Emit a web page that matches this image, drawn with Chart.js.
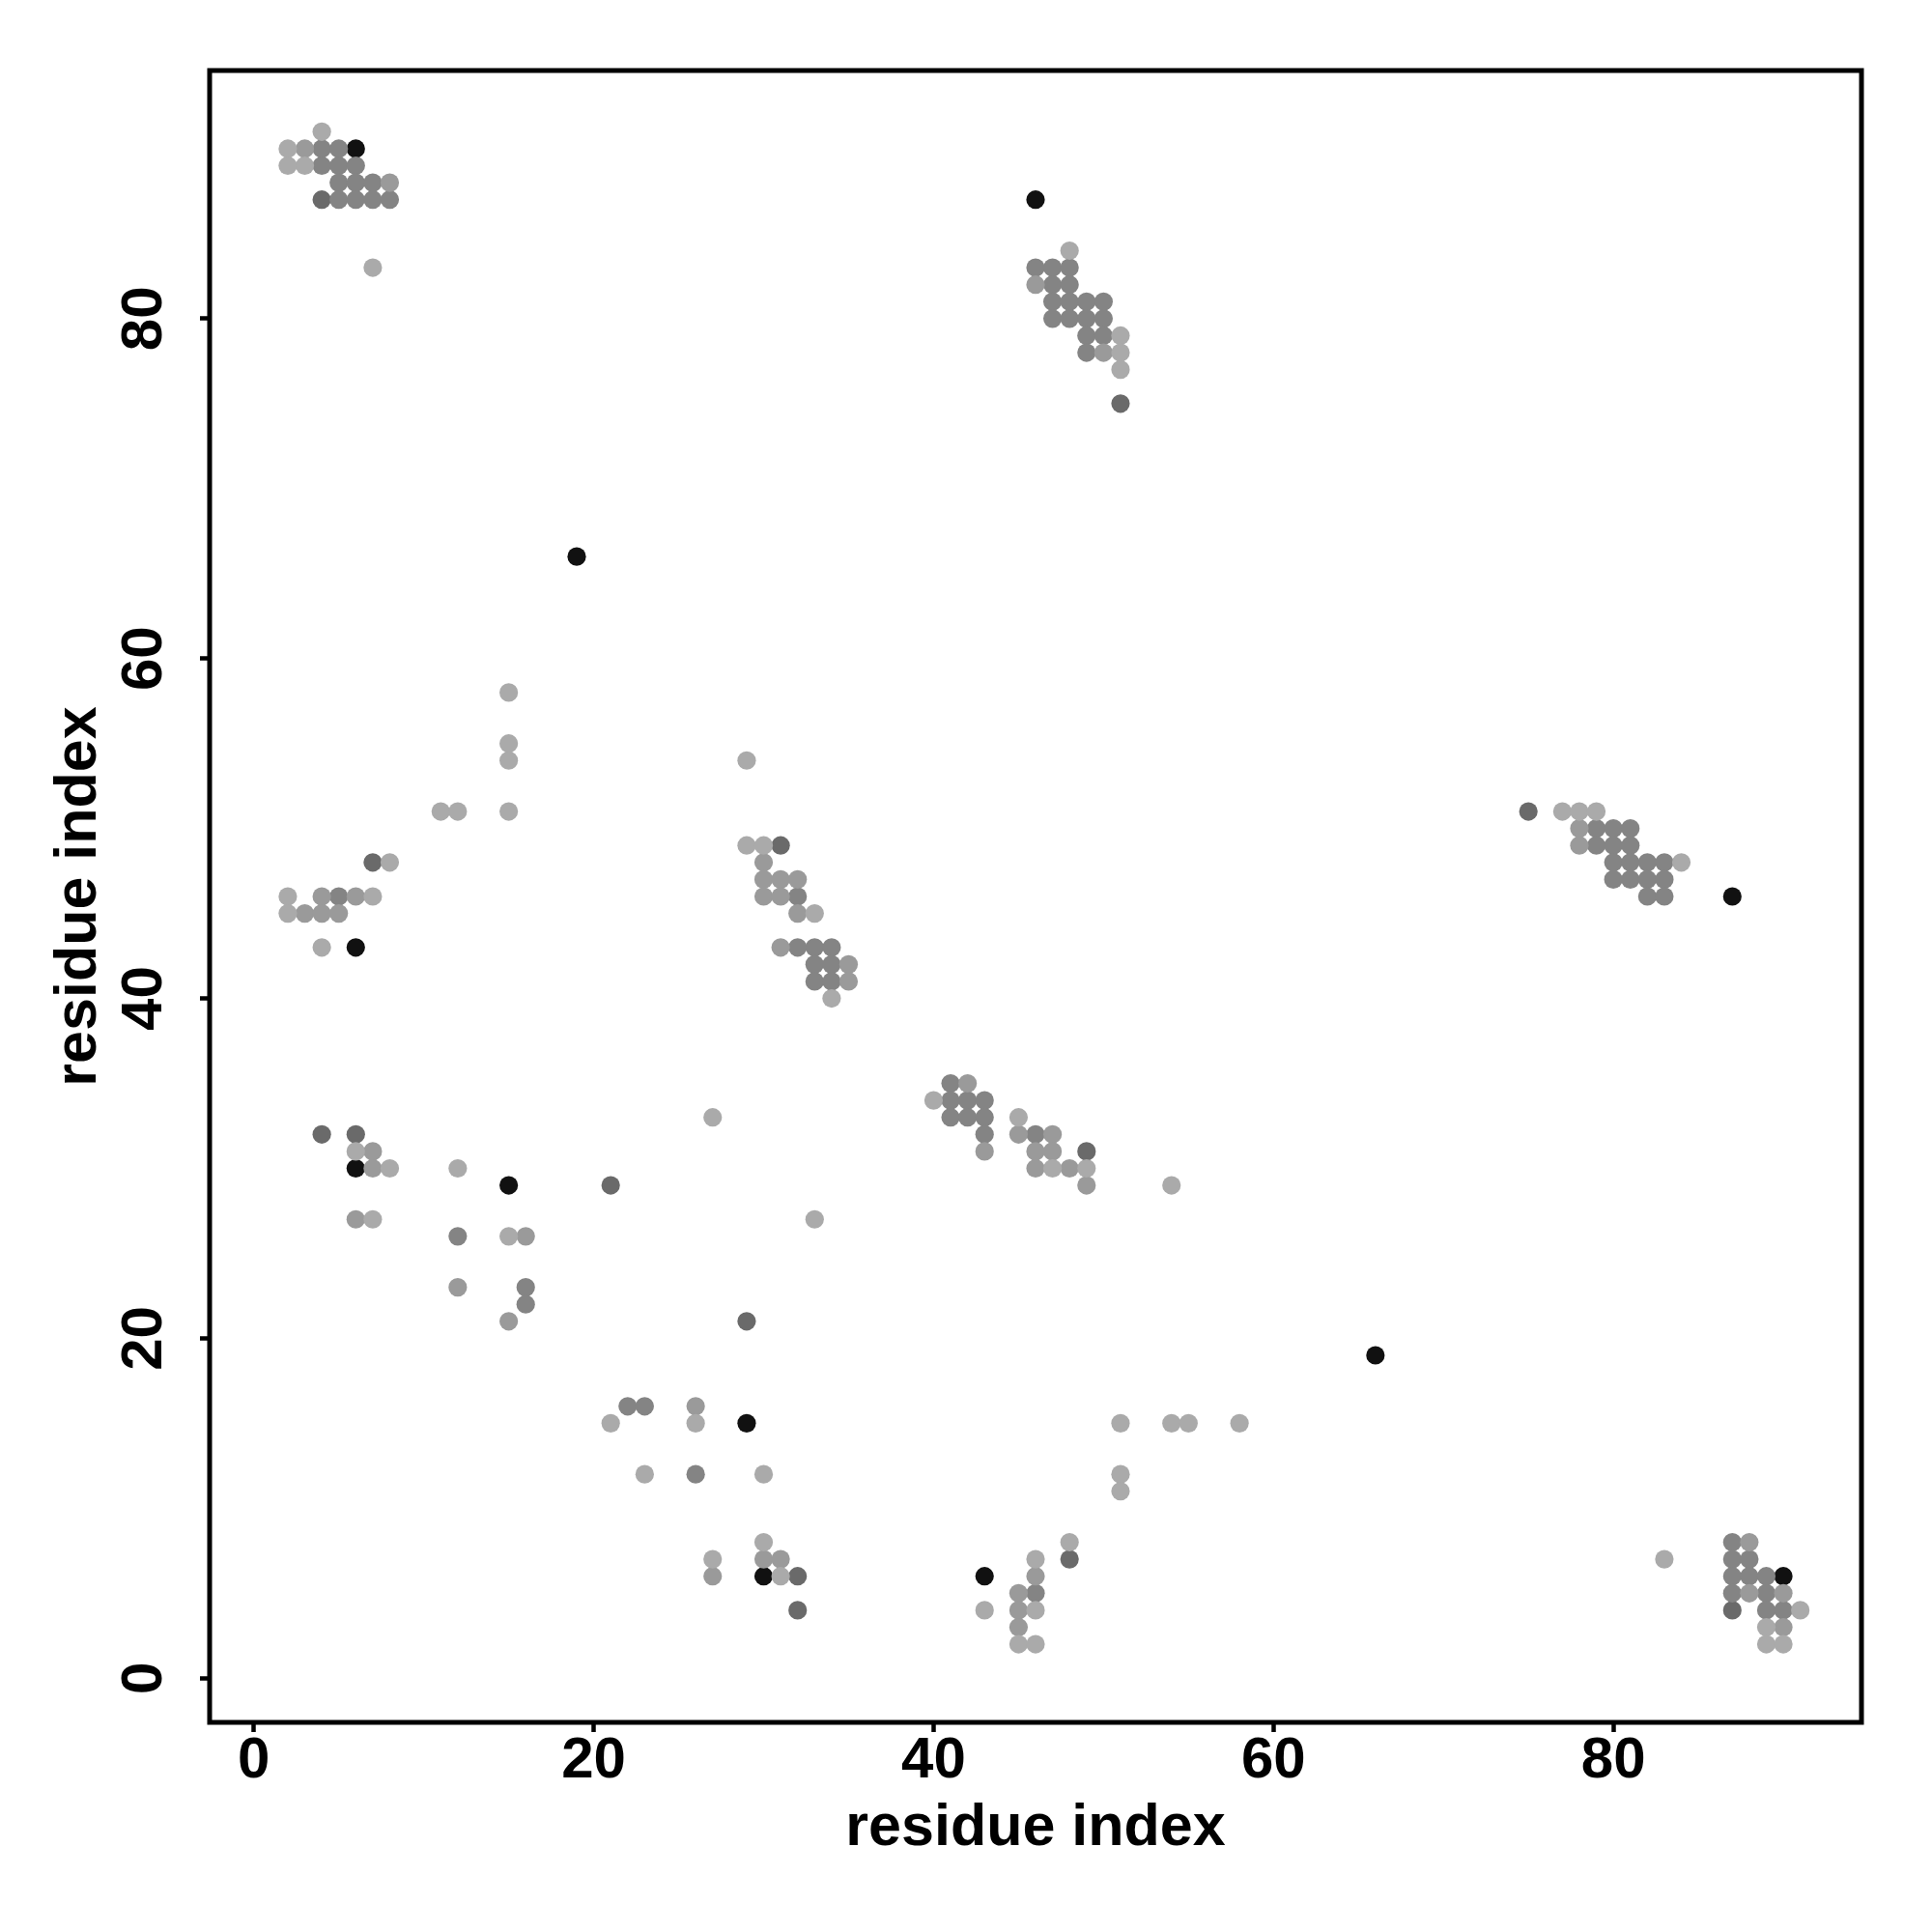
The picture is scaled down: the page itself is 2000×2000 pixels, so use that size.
<!DOCTYPE html>
<html>
<head>
<meta charset="utf-8">
<script src="https://cdn.jsdelivr.net/npm/chart.js@4/dist/chart.umd.min.js"></script>
<style>
html, body { margin: 0; padding: 0; background: #ffffff; }
canvas { display: block; }
</style>
</head>
<body>
<canvas id="c" width="2000" height="2000" style="width:2000px;height:2000px"></canvas>
<script>
// ---- data ----
const xTickValues = [0, 20, 40, 60, 80];
const yTickValues = [0, 20, 40, 60, 80];
const axisRange = [-2.6, 94.6];
const xTitle = 'residue index';
const yTitle = 'residue index';

// contacts grouped by gray level: [x, y]
const lightPts = [
  [4,91],[2,90],[2,89],[3,89],[7,83],
  [83,7],[91,4],[89,3],[89,2],[90,2],
  [48,84],[51,79],[51,78],[51,77],
  [77,51],[78,51],[79,51],[84,48],
  [15,58],[15,55],[15,54],[11,51],[12,51],[15,51],[8,48],[2,46],[7,46],[2,45],[4,43],
  [51,15],[54,15],[55,15],[58,15],[51,12],[51,11],[48,8],[46,7],[43,4],[46,4],[45,2],[46,2],
  [29,54],[29,49],[30,49],[33,45],[34,40],
  [40,34],[45,33],[47,30],[49,30],[54,29],
  [6,31],[8,30],[12,30],[7,27],[15,26],
  [21,15],[26,15],[23,12],[30,12],[30,8],[27,7],[31,6],
  [27,33],[33,27]
];
const lightMidPts = [
  [3,90],[8,88],
  [88,8],[88,5],[90,5],[90,3],
  [46,82],[50,78],
  [78,50],[78,49],
  [4,46],[6,46],[3,45],[4,45],[5,45],
  [46,6],[45,5],[45,4],[45,3],
  [30,48],[30,47],[31,47],[32,47],[30,46],[31,46],[32,45],[31,43],[35,42],[35,41],
  [42,35],[45,32],[47,32],[43,31],[46,31],[47,31],[46,30],[48,30],[49,29],
  [7,31],[7,30],[6,27],[16,26],[12,23],[15,21],
  [26,16],[30,7],[31,7],[27,6]
];
const midPts = [
  [4,90],[5,90],[4,89],[5,89],[6,89],[5,88],[6,88],[7,88],[5,87],[6,87],[7,87],[8,87],
  [87,8],[87,7],[88,7],[87,6],[88,6],[89,6],[87,5],[89,5],[89,4],[90,4],
  [46,83],[47,83],[48,83],[47,82],[48,82],[47,81],[48,81],[49,81],[50,81],
  [47,80],[48,80],[49,80],[50,80],[49,79],[50,79],[49,78],
  [79,50],[80,50],[81,50],[79,49],[80,49],[81,49],[80,48],[81,48],[82,48],[83,48],
  [80,47],[81,47],[82,47],[83,47],[82,46],[83,46],
  [5,46],[46,5],
  [32,46],[32,43],[33,43],[34,43],[33,42],[34,42],[33,41],[34,41],
  [41,35],[41,34],[42,34],[43,34],[41,33],[42,33],[43,33],[43,32],[46,32],
  [12,26],[16,23],[16,22],
  [22,16],[23,16],[26,12]
];
const darkPts = [
  [4,87],[87,4],[51,75],[75,51],[7,48],[48,7],[31,49],[49,31],
  [4,32],[6,32],[32,6],[32,4],[21,29],[29,21]
];
const blackPts = [
  [6,90],[90,6],[46,87],[87,46],[6,43],[43,6],[6,30],[15,29],[29,15],[30,6],[19,66],[66,19]
];

// ---- chart ----
const toXY = pts => pts.map(p => ({ x: p[0], y: p[1] }));
const mkSet = (pts, color) => ({
  data: toXY(pts),
  backgroundColor: color,
  borderWidth: 0,
  pointRadius: 9.6,
  pointHoverRadius: 9.6
});

const framePlugin = {
  id: 'frame',
  afterDatasetsDraw(chart) {
    const { ctx, chartArea: a } = chart;
    ctx.save();
    ctx.strokeStyle = '#000000';
    ctx.lineWidth = 5;
    ctx.strokeRect(a.left, a.top, a.right - a.left, a.bottom - a.top);
    ctx.restore();
  }
};

const tickFont = { family: '"Liberation Sans", Arial, Helvetica, sans-serif', weight: 'bold', size: 60, lineHeight: 1 };
const titleFont = { family: '"Liberation Sans", Arial, Helvetica, sans-serif', weight: 'bold', size: 61, lineHeight: 1.2 };

new Chart(document.getElementById('c'), {
  type: 'scatter',
  data: {
    datasets: [
      mkSet(lightPts, '#aaaaaa'),
      mkSet(lightMidPts, '#9a9a9a'),
      mkSet(midPts, '#848484'),
      mkSet(darkPts, '#6a6a6a'),
      mkSet(blackPts, '#111111')
    ]
  },
  options: {
    responsive: false,
    animation: false,
    devicePixelRatio: 1,
    layout: { padding: { top: 73, right: 73, left: 0, bottom: 0 } },
    plugins: { legend: { display: false }, tooltip: { enabled: false } },
    scales: {
      x: {
        type: 'linear',
        min: axisRange[0],
        max: axisRange[1],
        afterBuildTicks: s => { s.ticks = xTickValues.map(v => ({ value: v })); },
        afterFit: s => { s.height = 217; },
        border: { display: false },
        grid: { display: true, drawOnChartArea: false, drawTicks: true, tickLength: 10, tickWidth: 4.5, tickColor: '#000000' },
        ticks: { font: tickFont, color: '#000000', padding: 0, maxRotation: 0, minRotation: 0, includeBounds: false },
        title: { display: true, text: xTitle, font: titleFont, color: '#000000', padding: { top: 0, bottom: 70 } }
      },
      y: {
        type: 'linear',
        min: axisRange[0],
        max: axisRange[1],
        afterBuildTicks: s => { s.ticks = yTickValues.map(v => ({ value: v })); },
        afterFit: s => { s.width = 217; },
        border: { display: false },
        grid: { display: true, drawOnChartArea: false, drawTicks: true, tickLength: 10, tickWidth: 4.5, tickColor: '#000000' },
        ticks: { font: tickFont, color: '#000000', padding: 23, minRotation: 90, maxRotation: 90, crossAlign: 'center', includeBounds: false },
        title: { display: true, text: yTitle, font: titleFont, color: '#000000', padding: { top: 46, bottom: 0 } }
      }
    }
  },
  plugins: [framePlugin]
});
</script>
</body>
</html>
